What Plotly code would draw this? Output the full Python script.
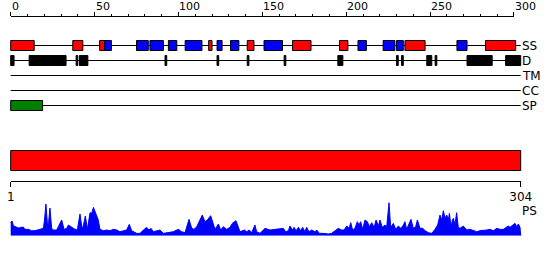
import plotly.graph_objects as go

# ---------------- data ----------------
seq_len = 304
top_ticks = [0, 50, 100, 150, 200, 250, 300]
track_names = ["SS", "D", "TM", "CC", "SP"]

ss_helix = [(1, 14), (38, 43), (54, 56), (119, 120), (142, 145), (169, 179),
            (197, 201), (236, 247), (284, 301)]
ss_strand = [(57, 60), (76, 82), (84, 91), (95, 99), (105, 114), (124, 126),
             (132, 136), (152, 162), (208, 212), (223, 229), (231, 234), (267, 272)]
disorder = [(1, 2), (12, 23), (24, 33), (40, 40), (42, 46), (93, 93), (124, 124),
            (142, 142), (164, 164), (196, 198), (231, 231), (234, 234), (249, 251),
            (254, 254), (273, 287), (296, 304)]
tm_regions = []
cc_regions = []
sp_regions = [(1, 19)]
domain_regions = [(1, 304)]
bottom_ticks = [1, 304]

ps_pos = [0, 0.8, 1.6, 4.5, 7.5, 8.5, 10.5, 12.5, 14.5, 16.5, 18.5, 19.5, 20.2, 21.0, 22.0,
          22.6, 23.4, 24.4, 25.4, 27.4, 28.4, 30.4, 31.8, 33.4, 34.4, 36.4, 38.3, 39.7,
          41.3, 42.5, 43.3, 44.5, 45.7, 47.3, 48.3, 49.3, 50.2, 51.2, 52.2, 53.2, 55.2,
          57.2, 59.2, 61.2, 63.2, 65.1, 67.1, 69.1, 70.7, 72.1, 75.1, 77.1, 79.1, 81.0,
          82.4, 83.6, 85.0, 87.0, 89.0, 91.0, 93.0, 94.9, 96.9, 99.9, 101.9, 103.9,
          106.3, 107.9, 109.3, 110.9, 112.2, 114.2, 115.8, 117.2, 119.2, 120.4, 121.8,
          123.8, 125.2, 126.7, 128.7, 130.7, 132.1, 134.3, 135.7, 136.7, 139.3, 140.7,
          142.2, 143.6, 145.6, 146.6, 148.6, 151.6, 154.6, 157.6, 159.5,
          160.5, 162.5, 163.9, 165.5, 166.5, 167.9, 168.9, 170.1, 171.5, 172.9, 174.0,
          175.4, 176.4, 177.8, 179.4, 181.4, 182.4, 184.0, 186.4, 189.3, 191.3, 195.3,
          197.3, 198.7, 200.3, 201.7, 202.7, 203.8, 205.2, 206.6, 207.6, 208.6, 209.8,
          211.2, 212.6, 213.8, 215.2, 216.6, 217.8, 219.2, 220.1, 221.5, 223.1, 224.1,
          225.5, 226.5, 228.1, 229.5, 231.1, 232.5, 234.1, 235.0, 236.0, 237.6, 238.6,
          240.0, 241.4, 242.4, 244.0, 245.6, 247.0, 249.0, 251.0, 252.9, 254.5, 255.9,
          256.9, 257.9, 258.9, 259.9, 260.9, 261.5, 262.5, 263.3, 263.9, 264.8, 265.8,
          266.8, 267.8, 269.8, 271.8, 273.8, 275.8, 277.8, 279.7, 281.7, 283.7, 285.7,
          287.7, 289.7, 291.7, 293.7, 295.6, 296.6, 297.6, 299.2, 300.6, 301.6, 302.6,
          303.6, 304]
ps_score = [40, 44, 30, 23, 26, 19, 19, 15, 15, 17, 20, 22, 50, 95, 27,
            40, 83, 22, 17, 17, 27, 47, 19, 22, 32, 25, 19, 17,
            65, 22, 30, 59, 19, 69, 67, 85, 72, 55, 47, 19, 15,
            17, 15, 19, 17, 12, 15, 17, 34, 15, 7, 7, 17, 25,
            17, 22, 12, 15, 17, 7, 9, 9, 12, 19, 12, 9,
            49, 22, 19, 27, 42, 62, 42, 47, 60, 37, 19,
            35, 17, 27, 19, 25, 37, 45, 25, 12, 17, 12,
            17, 9, 32, 12, 7, 22, 17, 19, 19,
            19, 22, 12, 15, 29, 17, 25, 15, 25, 15, 25,
            12, 25, 12, 17, 12, 17, 7, 7, 5, 7, 22,
            17, 17, 29, 22, 39, 17, 22, 42, 32, 42, 19,
            47, 42, 27, 39, 25, 47, 29, 47, 25, 32, 25,
            99, 25, 37, 19, 29, 22, 32, 42, 19, 35, 49,
            22, 27, 47, 22, 22, 15, 9, 7, 19, 32, 62,
            47, 75, 52, 62, 47, 67, 27, 47, 52, 32, 69,
            25, 22, 29, 17, 19, 15, 12, 15, 15, 17, 19,
            15, 22, 19, 19, 25, 29, 25, 32, 37, 27, 35,
            25, 0]

# ---------------- layout helpers ----------------
W, H = 550, 260
X0PX, X1PX = 10.7, 520.7
ppu = (X1PX - X0PX) / seq_len
xr = [-X0PX / ppu, (W - X0PX) / ppu]
FONT = "DejaVu Sans"

track_y = {"SS": 45.5, "D": 60.5, "TM": 75.5, "CC": 90.5, "SP": 105.5}
HALF = 5

fig = go.Figure()

# dummy trace to bind main x/y
fig.add_trace(go.Scatter(x=[0], y=[None], xaxis="x", yaxis="y", showlegend=False,
                         hoverinfo="skip"))

shapes = []
for name in track_names:
    y = track_y[name]
    shapes.append(dict(type="line", xref="x", yref="y", x0=0, x1=seq_len, y0=y, y1=y,
                       line=dict(color="black", width=1)))


def boxes(regions, y, color):
    for s, e in regions:
        shapes.append(dict(type="rect", xref="x", yref="y", x0=s - 1, x1=e,
                           y0=y - HALF, y1=y + HALF, fillcolor=color,
                           line=dict(color="black", width=1)))


boxes(ss_helix, track_y["SS"], "red")
boxes(ss_strand, track_y["SS"], "blue")
boxes(disorder, track_y["D"], "black")
boxes(tm_regions, track_y["TM"], "gray")
boxes(cc_regions, track_y["CC"], "gray")
boxes(sp_regions, track_y["SP"], "green")

for s, e in domain_regions:
    shapes.append(dict(type="rect", xref="x", yref="y", x0=s - 1, x1=e, y0=150.5,
                       y1=170.5, fillcolor="red", line=dict(color="black", width=1)))

annotations = []
for name in track_names:
    annotations.append(dict(x=seq_len, y=track_y[name], xref="x", yref="y", text=name,
                            showarrow=False, xanchor="left", yanchor="middle", xshift=-1,
                            font=dict(family=FONT, size=12, color="black")))
annotations.append(dict(x=seq_len, y=211, xref="x", yref="y", text="PS",
                        showarrow=False, xanchor="left", yanchor="middle", xshift=-1,
                        font=dict(family=FONT, size=12, color="black")))
for t in top_ticks:
    annotations.append(dict(x=t, y=6, xref="x", yref="y", text=str(t), showarrow=False,
                            xanchor="left", yanchor="middle", xshift=-1,
                            font=dict(family=FONT, size=11, color="black")))

# PS profile
fig.add_trace(go.Scatter(x=ps_pos, y=ps_score, xaxis="x", yaxis="y2", mode="lines",
                         fill="tozeroy", fillcolor="blue",
                         line=dict(color="blue", width=1), showlegend=False,
                         hoverinfo="skip"))

# top scale axis
fig.add_trace(go.Scatter(x=[0, 300], y=[None, None], xaxis="x2", yaxis="y",
                         showlegend=False, hoverinfo="skip"))
# bottom scale axis
fig.add_trace(go.Scatter(x=[1, 304], y=[None, None], xaxis="x3", yaxis="y",
                         showlegend=False, hoverinfo="skip"))

top_lo = X0PX / W
top_hi = (X0PX + 300 * ppu) / W

fig.update_layout(
    width=W, height=H, margin=dict(l=0, r=0, t=0, b=0, pad=0, autoexpand=False),
    autosize=False,
    paper_bgcolor="white", plot_bgcolor="rgba(0,0,0,0)",
    showlegend=False, hovermode=False,
    font=dict(family=FONT, size=11, color="black"),
    xaxis=dict(range=xr, domain=[0, 1], visible=False, fixedrange=True,
               automargin=False),
    yaxis=dict(range=[H, 0], domain=[0, 1], visible=False, fixedrange=True,
               automargin=False),
    yaxis2=dict(range=[0, 108], domain=[(H - 235.7) / H, (H - 199.7) / H],
                anchor="x", visible=False, fixedrange=True, automargin=False),
    xaxis2=dict(range=[0, 300], domain=[top_lo, top_hi], anchor="free",
                position=1 - 15.5 / H, side="top", showline=True, linecolor="black",
                linewidth=1, showgrid=False, zeroline=False, tickmode="array",
                tickvals=top_ticks, ticks="outside", ticklen=4, tickcolor="black",
                tickwidth=1, showticklabels=False, automargin=False,
                minor=dict(dtick=10, tick0=0, ticks="outside", ticklen=2,
                           tickcolor="black", tickwidth=1, showgrid=False),
                fixedrange=True),
    xaxis3=dict(range=[1, 304], domain=[X0PX / W, X1PX / W], anchor="free",
                position=1 - 180.5 / H, side="bottom", showline=True,
                linecolor="black", linewidth=1, showgrid=False, zeroline=False,
                tickmode="array", tickvals=bottom_ticks, automargin=False,
                ticktext=[str(v) for v in bottom_ticks], ticks="outside", ticklen=5,
                tickcolor="black", tickwidth=1,
                tickfont=dict(family=FONT, size=12, color="black"), fixedrange=True),
    shapes=shapes, annotations=annotations,
)

fig.write_html("out.html", config={"responsive": False, "displayModeBar": False})
